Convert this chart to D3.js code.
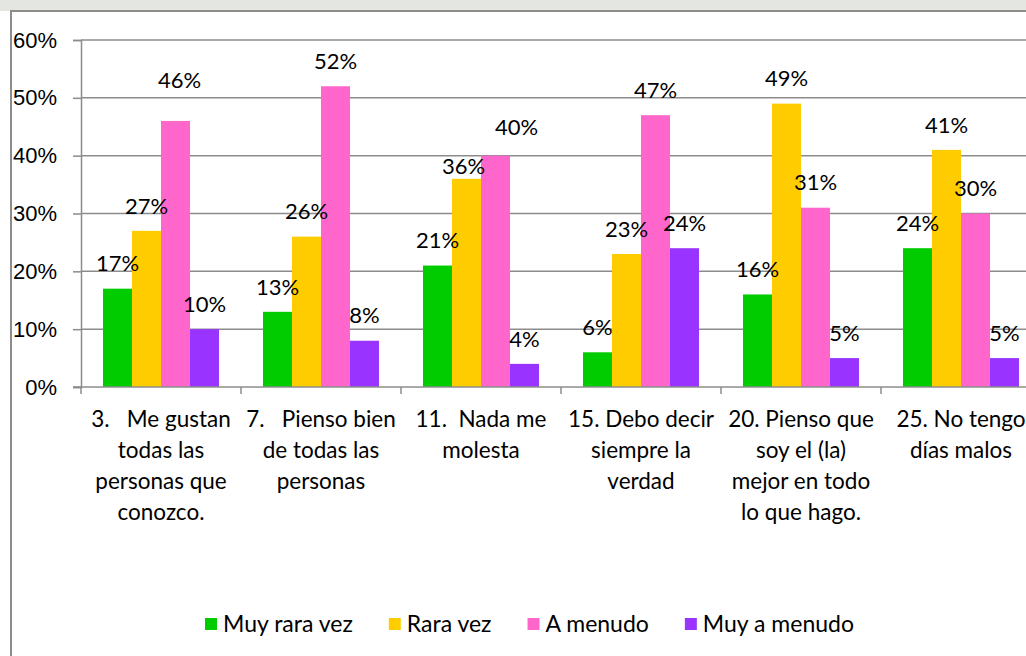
<!DOCTYPE html>
<html>
<head>
<meta charset="utf-8">
<script src="https://cdn.jsdelivr.net/npm/d3@7/dist/d3.min.js"></script>
<style>
  html, body { margin: 0; padding: 0; background: #fff; }
  svg { display: block; font-family: Lato, "Open Sans", sans-serif; }
</style>
</head>
<body>
<svg id="chart" width="1026" height="656"></svg>
<script>
// chart values
var categories = [
    ["3.   Me gustan", "todas las", "personas que", "conozco."],
    ["7.   Pienso bien", "de todas las", "personas"],
    ["11.  Nada me", "molesta"],
    ["15. Debo decir", "siempre la", "verdad"],
    ["20. Pienso que", "soy el (la)", "mejor en todo", "lo que hago."],
    ["25. No tengo", "días malos"]
];
var seriesNames = ["Muy rara vez", "Rara vez", "A menudo", "Muy a menudo"];
var muyRaraVez  = [17, 13, 21, 6, 16, 24];
var raraVez     = [27, 26, 36, 23, 49, 41];
var aMenudo     = [46, 52, 40, 47, 31, 30];
var muyAMenudo  = [10, 8, 4, 24, 5, 5];
var yTicks      = [0, 10, 20, 30, 40, 50, 60];

var seriesValues = [muyRaraVez, raraVez, aMenudo, muyAMenudo];
var colors = ["#00cc00", "#ffcc00", "#ff66cc", "#9933ff"];

// a few data labels were dragged by hand in the original
var labelNudge = { "2-0": [4, -16], "2-2": [21, -3], "1-2": [-3, 12] };

var svg = d3.select("#chart"),
    plot = { left: 81, right: 1041, top: 40, bottom: 387 },
    fontSize = 22;

// faint watermark strip at the very top
svg.append("rect").attr("x", 0).attr("y", 0).attr("width", 1026).attr("height", 11)
    .attr("fill", "#e3e6e1");

// chart frame
svg.append("rect").attr("x", 11).attr("y", 11).attr("width", 1060).attr("height", 700)
    .attr("fill", "#fff").attr("stroke", "#8c8c8c").attr("stroke-width", 2);

var keys = categories.map((c, i) => "c" + i);

var x = d3.scaleBand().domain(keys).range([plot.left, plot.right])
    .paddingInner(0.275).paddingOuter(0.1375);
var xs = d3.scaleBand().domain(seriesNames).range([0, x.bandwidth()]);
var y = d3.scaleLinear().domain([0, 60]).range([plot.bottom, plot.top]);

// gridlines
svg.append("g").selectAll("line").data(yTicks.slice(1)).enter().append("line")
    .attr("x1", plot.left).attr("x2", 1030)
    .attr("y1", d => y(d)).attr("y2", d => y(d))
    .attr("stroke", "#8c8c8c").attr("stroke-width", 1.5);

// y axis
var yAxis = d3.axisLeft(y).tickValues(yTicks).tickFormat(d => d + "%")
    .tickSize(8).tickPadding(16);
var gy = svg.append("g").attr("transform", "translate(" + plot.left + ",0)").call(yAxis);
gy.select(".domain").attr("stroke", "#8c8c8c").attr("stroke-width", 1.5);
gy.selectAll(".tick line").attr("stroke", "#8c8c8c").attr("stroke-width", 1.5);
gy.selectAll(".tick text").attr("font-size", fontSize).attr("font-family", null)
    .attr("fill", "#000");

// bars
var groups = svg.append("g").selectAll("g").data(keys).enter().append("g")
    .attr("transform", d => "translate(" + x(d) + ",0)");

var cells = (k, ci) => seriesNames.map((s, si) => ({ s: s, si: si, ci: ci, v: seriesValues[si][ci] }));

groups.selectAll("rect").data(cells).enter().append("rect")
    .attr("x", d => xs(d.s))
    .attr("y", d => y(d.v))
    .attr("width", xs.bandwidth())
    .attr("height", d => y(0) - y(d.v))
    .attr("fill", d => colors[d.si]);

// data labels
var nudge = d => labelNudge[d.si + "-" + d.ci] || [0, 0];
groups.selectAll("text").data(cells).enter().append("text")
    .attr("x", d => xs(d.s) + xs.bandwidth() / 2 + nudge(d)[0])
    .attr("y", d => y(d.v) - 25 + nudge(d)[1])
    .attr("dy", "0.35em")
    .attr("text-anchor", "middle")
    .attr("font-size", fontSize)
    .text(d => d.v + "%");

// x axis line and category boundary ticks
svg.append("line").attr("x1", plot.left - 8).attr("x2", 1030)
    .attr("y1", plot.bottom).attr("y2", plot.bottom)
    .attr("stroke", "#8c8c8c").attr("stroke-width", 1.5);
var step = x.step();
svg.append("g").selectAll("line").data(keys).enter().append("line")
    .attr("x1", d => x(d) - x.paddingOuter() * step)
    .attr("x2", d => x(d) - x.paddingOuter() * step)
    .attr("y1", plot.bottom).attr("y2", plot.bottom + 7)
    .attr("stroke", "#8c8c8c").attr("stroke-width", 1.5);

// category labels
var catText = svg.append("g").selectAll("text").data(categories).enter().append("text")
    .attr("x", (d, i) => x(keys[i]) + x.bandwidth() / 2)
    .attr("y", 427)
    .attr("text-anchor", "middle")
    .attr("font-size", 22.5)
    .style("white-space", "pre");
catText.selectAll("tspan").data(d => d).enter().append("tspan")
    .attr("x", function () { return this.parentNode.getAttribute("x"); })
    .attr("dy", (d, i) => i ? 31 : 0)
    .text(d => d);

// legend
var legend = svg.append("g").attr("transform", "translate(205,624)");
var lx = 0;
seriesNames.forEach((s, i) => {
    var item = legend.append("g").attr("transform", "translate(" + lx + ",0)");
    item.append("rect").attr("x", 0).attr("y", -6).attr("width", 12).attr("height", 12)
        .attr("fill", colors[i]);
    var t = item.append("text").attr("x", 18).attr("dy", "0.35em")
        .attr("font-size", 23).text(s);
    lx += 18 + t.node().getComputedTextLength() + 36;
});
</script>
</body>
</html>
